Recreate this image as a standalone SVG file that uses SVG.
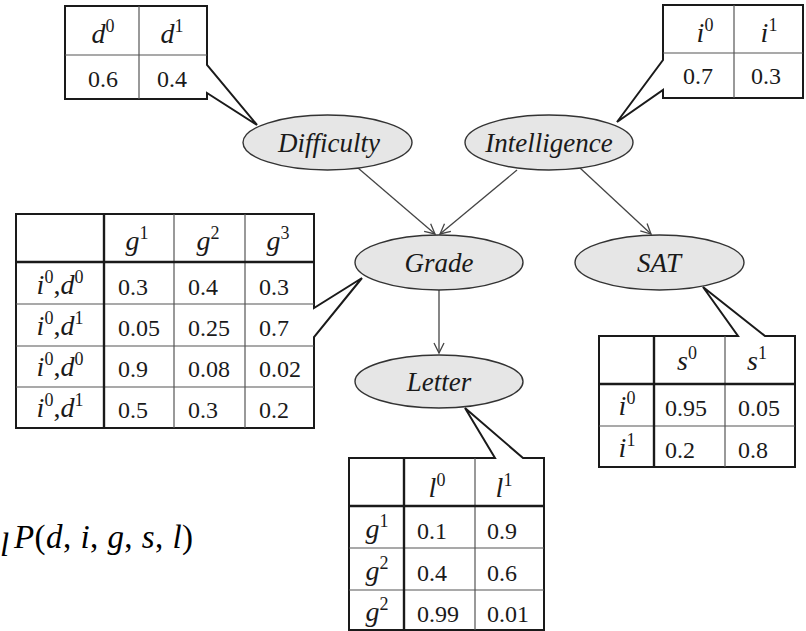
<svg xmlns="http://www.w3.org/2000/svg" width="806" height="631" viewBox="0 0 806 631">
<defs>
<style>
.bg{fill:#ffffff}
.tbl{fill:#ffffff;stroke:#1a1a1a;stroke-width:2;stroke-linejoin:miter}
.grid{stroke:#555;stroke-width:1.2;fill:none}
.thick{stroke:#1a1a1a;stroke-width:2.4;fill:none}
.node ellipse{fill:#e6e6e6;stroke:#333;stroke-width:1.4}
text{font-family:"Liberation Serif","Times New Roman",Times,"DejaVu Serif",serif}
.lbl{font-style:italic;font-size:27px;fill:#1a1a1a;text-anchor:middle}
.num{font-size:24px;fill:#1a1a1a}
.hd{font-size:28px;fill:#1a1a1a;text-anchor:middle}
.it{font-style:italic}
.sup{font-size:18px;font-style:normal}
.edge{stroke:#444;stroke-width:1.3;fill:none}
.fm{font-size:33px;fill:#000}
</style>
<marker id="arr" markerWidth="14" markerHeight="14" refX="12" refY="7" orient="auto" markerUnits="userSpaceOnUse">
<path d="M2,2 L12,7 L2,12" fill="none" stroke="#444" stroke-width="1.3"/>
</marker>
</defs>
<rect class="bg" x="0" y="0" width="806" height="631"/>

<g id="connectors">
<line class="edge" x1="358" y1="168" x2="435" y2="234" marker-end="url(#arr)"/>
<line class="edge" x1="517" y1="170" x2="440" y2="234" marker-end="url(#arr)"/>
<line class="edge" x1="580" y1="168" x2="651" y2="234" marker-end="url(#arr)"/>
<line class="edge" x1="439" y1="290" x2="439" y2="353" marker-end="url(#arr)"/>
</g>

<g id="cpd-difficulty">
<path class="tbl" d="M65,6 H207 V65 L257,125 L207,93 V99 H65 Z"/>
<line class="grid" x1="139" y1="6" x2="139" y2="99"/>
<line class="grid" x1="65" y1="55" x2="207" y2="55"/>
<text class="hd" x="103" y="43"><tspan class="it">d</tspan><tspan class="sup" dy="-11">0</tspan></text>
<text class="hd" x="172" y="43"><tspan class="it">d</tspan><tspan class="sup" dy="-11">1</tspan></text>
<text class="num" x="103" y="87" text-anchor="middle">0.6</text>
<text class="num" x="172" y="87" text-anchor="middle">0.4</text>
</g>

<g id="cpd-intelligence">
<path class="tbl" d="M663,5 H803 V98 H663 V90 L617,122 L663,60 Z"/>
<line class="grid" x1="734" y1="5" x2="734" y2="98"/>
<line class="grid" x1="663" y1="53" x2="803" y2="53"/>
<text class="hd" x="705" y="42"><tspan class="it">i</tspan><tspan class="sup" dy="-11">0</tspan></text>
<text class="hd" x="769" y="42"><tspan class="it">i</tspan><tspan class="sup" dy="-11">1</tspan></text>
<text class="num" x="698" y="84" text-anchor="middle">0.7</text>
<text class="num" x="766" y="84" text-anchor="middle">0.3</text>
</g>

<g id="node-difficulty" class="node">
<ellipse cx="327.5" cy="142.5" rx="84.5" ry="27.5"/>
<text class="lbl" x="329" y="152">Difficulty</text>
</g>
<g id="node-intelligence" class="node">
<ellipse cx="549" cy="142.5" rx="84" ry="27.5"/>
<text class="lbl" x="549" y="152">Intelligence</text>
</g>
<g id="node-grade" class="node">
<ellipse cx="439" cy="262.5" rx="84" ry="27.5"/>
<text class="lbl" x="439" y="272">Grade</text>
</g>
<g id="node-sat" class="node">
<ellipse cx="659.5" cy="262.5" rx="84.5" ry="27.5"/>
<text class="lbl" x="659" y="272">SAT</text>
</g>
<g id="node-letter" class="node">
<ellipse cx="439" cy="381.5" rx="84" ry="26.5"/>
<text class="lbl" x="439" y="391">Letter</text>
</g>

<g id="cpd-grade">
<path class="tbl" d="M16,214 H314 V308 L362,278 L314,337 V428 H16 Z"/>
<line class="grid" x1="174" y1="214" x2="174" y2="428"/>
<line class="grid" x1="245" y1="214" x2="245" y2="428"/>
<line class="grid" x1="16" y1="304" x2="314" y2="304"/>
<line class="grid" x1="16" y1="346" x2="314" y2="346"/>
<line class="grid" x1="16" y1="387" x2="314" y2="387"/>
<line class="thick" x1="104" y1="214" x2="104" y2="428"/>
<line class="thick" x1="16" y1="262" x2="314" y2="262"/>
<text class="hd" x="137" y="250"><tspan class="it">g</tspan><tspan class="sup" dy="-11">1</tspan></text>
<text class="hd" x="208" y="250"><tspan class="it">g</tspan><tspan class="sup" dy="-11">2</tspan></text>
<text class="hd" x="278" y="250"><tspan class="it">g</tspan><tspan class="sup" dy="-11">3</tspan></text>
<text class="hd" x="60" y="294"><tspan class="it">i</tspan><tspan class="sup" dy="-11">0</tspan><tspan dy="11">,</tspan><tspan class="it">d</tspan><tspan class="sup" dy="-11">0</tspan></text>
<text class="hd" x="60" y="335"><tspan class="it">i</tspan><tspan class="sup" dy="-11">0</tspan><tspan dy="11">,</tspan><tspan class="it">d</tspan><tspan class="sup" dy="-11">1</tspan></text>
<text class="hd" x="60" y="376"><tspan class="it">i</tspan><tspan class="sup" dy="-11">0</tspan><tspan dy="11">,</tspan><tspan class="it">d</tspan><tspan class="sup" dy="-11">0</tspan></text>
<text class="hd" x="60" y="417"><tspan class="it">i</tspan><tspan class="sup" dy="-11">0</tspan><tspan dy="11">,</tspan><tspan class="it">d</tspan><tspan class="sup" dy="-11">1</tspan></text>
<text class="num" x="118" y="295">0.3</text>
<text class="num" x="188" y="295">0.4</text>
<text class="num" x="259" y="295">0.3</text>
<text class="num" x="118" y="336">0.05</text>
<text class="num" x="188" y="336">0.25</text>
<text class="num" x="259" y="336">0.7</text>
<text class="num" x="118" y="377">0.9</text>
<text class="num" x="188" y="377">0.08</text>
<text class="num" x="259" y="377">0.02</text>
<text class="num" x="118" y="418">0.5</text>
<text class="num" x="188" y="418">0.3</text>
<text class="num" x="259" y="418">0.2</text>
</g>

<g id="cpd-sat">
<path class="tbl" d="M599,336 H738 L703,287 L765,336 H795 V467 H599 Z"/>
<line class="grid" x1="725" y1="336" x2="725" y2="467"/>
<line class="grid" x1="599" y1="426" x2="795" y2="426"/>
<line class="thick" x1="654" y1="336" x2="654" y2="467"/>
<line class="thick" x1="599" y1="384" x2="795" y2="384"/>
<text class="hd" x="687" y="370"><tspan class="it">s</tspan><tspan class="sup" dy="-11">0</tspan></text>
<text class="hd" x="757" y="370"><tspan class="it">s</tspan><tspan class="sup" dy="-11">1</tspan></text>
<text class="hd" x="627" y="415"><tspan class="it">i</tspan><tspan class="sup" dy="-11">0</tspan></text>
<text class="hd" x="627" y="457"><tspan class="it">i</tspan><tspan class="sup" dy="-11">1</tspan></text>
<text class="num" x="665" y="416">0.95</text>
<text class="num" x="738" y="416">0.05</text>
<text class="num" x="665" y="458">0.2</text>
<text class="num" x="738" y="458">0.8</text>
</g>

<g id="cpd-letter">
<path class="tbl" d="M349,458 H495 L465,408 L523,458 H544 V630 H349 Z"/>
<line class="grid" x1="475" y1="458" x2="475" y2="630"/>
<line class="grid" x1="349" y1="548" x2="544" y2="548"/>
<line class="grid" x1="349" y1="590" x2="544" y2="590"/>
<line class="thick" x1="404" y1="458" x2="404" y2="630"/>
<line class="thick" x1="349" y1="506" x2="544" y2="506"/>
<text class="hd" x="437" y="497"><tspan class="it">l</tspan><tspan class="sup" dy="-11">0</tspan></text>
<text class="hd" x="504" y="497"><tspan class="it">l</tspan><tspan class="sup" dy="-11">1</tspan></text>
<text class="hd" x="377" y="538"><tspan class="it">g</tspan><tspan class="sup" dy="-11">1</tspan></text>
<text class="hd" x="377" y="580"><tspan class="it">g</tspan><tspan class="sup" dy="-11">2</tspan></text>
<text class="hd" x="377" y="621"><tspan class="it">g</tspan><tspan class="sup" dy="-11">2</tspan></text>
<text class="num" x="417" y="539">0.1</text>
<text class="num" x="487" y="539">0.9</text>
<text class="num" x="417" y="581">0.4</text>
<text class="num" x="487" y="581">0.6</text>
<text class="num" x="417" y="622">0.99</text>
<text class="num" x="487" y="622">0.01</text>
</g>

<g id="formula">
<text class="fm" x="0" y="556" font-size="20" font-style="italic">l</text>
<text class="fm" x="14" y="548" textLength="179" lengthAdjust="spacing"><tspan class="it">P</tspan>(<tspan class="it">d</tspan>, <tspan class="it">i</tspan>, <tspan class="it">g</tspan>, <tspan class="it">s</tspan>, <tspan class="it">l</tspan>)</text>
</g>
</svg>
